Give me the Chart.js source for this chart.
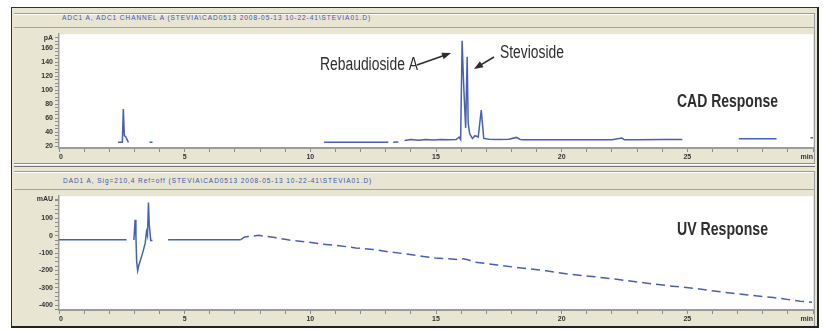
<!DOCTYPE html>
<html>
<head>
<meta charset="utf-8">
<script src="https://cdn.jsdelivr.net/npm/chart.js@4.4.1/dist/chart.umd.min.js"></script>
<style>
html, body { margin: 0; padding: 0; background: #fff; }
body { width: 825px; height: 330px; position: relative; overflow: hidden; font-family: "Liberation Sans", Arial, sans-serif; }
.frame { position: absolute; left: 11px; top: 7px; width: 805px; height: 318px; background: #e8e5d3;
  border-left: 1px solid #333; border-top: 1px solid #333; border-right: 2px solid #222; border-bottom: 2px solid #222; }
.ln { position: absolute; height: 1px; left: 14px; width: 801px; }
.vln { position: absolute; width: 1px; }
.hdr { position: absolute; font-size: 6.5px; color: #3b55b5; white-space: nowrap; letter-spacing: 0.95px; }
canvas { position: absolute; }
</style>
</head>
<body>
<div class="frame"></div>
<div class="ln" style="top:13px;background:#9a9a9a"></div>
<div class="ln" style="top:14px;background:#fff"></div>
<div class="ln" style="top:27px;background:#a3a3a3"></div>
<div class="ln" style="top:163px;background:#8a8a8a"></div>
<div class="ln" style="top:164px;background:#fff"></div>
<div class="ln" style="top:166px;background:#777"></div>
<div class="ln" style="top:171px;background:#9a9a9a"></div>
<div class="ln" style="top:172px;background:#fff"></div>
<div class="ln" style="top:189px;background:#a3a3a3"></div>
<div class="vln" style="left:814px;top:13px;height:150px;background:#9a9a9a"></div>
<div class="vln" style="left:814px;top:171px;height:155px;background:#9a9a9a"></div>
<div class="hdr" style="left:62px;top:14px">ADC1 A, ADC1 CHANNEL A (STEVIA\CAD0513 2008-05-13 10-22-41\STEVIA01.D)</div>
<div class="hdr" style="left:63px;top:177px">DAD1 A, Sig=210,4 Ref=off (STEVIA\CAD0513 2008-05-13 10-22-41\STEVIA01.D)</div>
<canvas id="cadChart" width="806" height="140" style="left:12px;top:28px"></canvas>
<canvas id="uvChart" width="806" height="138" style="left:12px;top:190px"></canvas>
<script>
// retention time axis (min)
var timeTickValues = [0, 5, 10, 15, 20, 25, 30];
var timeTickLabels = ['0', '5', '10', '15', '20', '25', 'min'];

// CAD trace
var cadTime = [2.35, 2.52, 2.56, 2.60, 2.66, 2.76, 3.0, 3.60, 3.72, 5.0,
  10.55, 13.10, 13.2, 13.3, 13.5, 13.6, 13.75, 14.0, 14.3, 14.6,
  14.9, 15.2, 15.5, 15.8, 15.92, 15.98, 16.04, 16.08, 16.12, 16.18,
  16.24, 16.28, 16.34, 16.45, 16.55, 16.68, 16.80, 16.90, 17.1, 17.5,
  17.9, 18.2, 18.35, 18.5, 19.0, 20.0, 21.0, 22.0, 22.4, 22.5,
  23.0, 24.0, 24.8, 25.5, 27.05, 28.55, 29.0, 29.9, 30.0];
var cadSignal = [25.4, 25.4, 73, 35, 33, 25.4, null, 25.4, 25.4, null,
  25.4, 25.4, null, 25.4, 25.8, null, 28, 29.5, 28.5, 29.5,
  28.8, 29.5, 29, 29.5, 33, 29.5, 171, 127, 92, 46,
  148, 53, 37.7, 31, 35, 33, 71.6, 31, 30, 29.5,
  30, 32.5, 29.5, 29, 29, 29, 29, 29, 31.5, 29,
  29, 29.5, 29.5, null, 30.5, 30.5, null, 32, 32];
var cadTickValues = [20, 40, 60, 80, 100, 120, 140, 160, 175];
var cadTickLabels = ['20', '40', '60', '80', '100', '120', '140', '160', 'pA'];

// UV trace
var uvTime = [0, 2.69, 2.8, 2.98, 3.03, 3.06, 3.09, 3.13, 3.18, 3.25,
  3.35, 3.43, 3.48, 3.52, 3.56, 3.59, 3.65, 3.72, 3.9, 4.34,
  7.23, 7.39, 7.95, 8.59, 9.16, 9.96, 10.48, 11.16, 11.81, 12.49,
  13.17, 13.90, 14.50, 14.97, 15.5, 15.97, 16.10, 16.30, 16.51, 17.44,
  18.31, 19.39, 20.39, 21.33, 22.26, 23.33, 24.27, 25.34, 26.35, 27.42,
  28.42, 29.49, 29.96];
var uvSignal = [-23, -23, null, -25, 92, 0, -150, -201, -168, -136,
  -87, -43, 22, 0, 190, 65, -27, -27, null, -23,
  -23, -7, 2, -11, -25, -38, -49, -58, -70, -79,
  -94, -106, -119, -128, -133, -139, -132, -140, -151, -169,
  -184, -202, -223, -236, -252, -272, -288, -304, -323, -341,
  -355, -377, -382];
var uvTickValues = [-400, -300, -200, -100, 0, 100, 210];
var uvTickLabels = ['-400', '-300', '-200', '-100', '0', '100', 'mAU'];

var lineColor = '#4660b8';
var tickFont = { family: '"Liberation Sans", Arial, sans-serif', size: 7, weight: 'bold' };

function toPoints(xs, ys) {
  return xs.map(function (x, i) { return { x: x, y: ys[i] }; });
}

function stepTicks(from, to, step, extra) {
  var out = [];
  for (var v = from; v <= to + 1e-6; v += step) out.push({ value: Math.round(v * 1000) / 1000 });
  (extra || []).forEach(function (v) {
    if (!out.some(function (t) { return t.value === v; })) out.push({ value: v });
  });
  out.sort(function (a, b) { return a.value - b.value; });
  return out;
}

function labelFrom(values, labels) {
  return function (value) {
    var i = values.indexOf(value);
    return i < 0 ? '' : labels[i];
  };
}

var plotBg = {
  id: 'plotBg',
  beforeDraw: function (chart) {
    var a = chart.chartArea, c = chart.ctx;
    c.save();
    c.fillStyle = '#fff';
    c.fillRect(a.left, a.top, a.right - a.left, a.bottom - a.top);
    c.restore();
  }
};

function arrow(c, x1, y1, x2, y2) {
  var ang = Math.atan2(y2 - y1, x2 - x1);
  c.beginPath();
  c.moveTo(x1, y1);
  c.lineTo(x2 - 6 * Math.cos(ang), y2 - 6 * Math.sin(ang));
  c.stroke();
  c.beginPath();
  c.moveTo(x2, y2);
  c.lineTo(x2 - 9 * Math.cos(ang) + 3.5 * Math.sin(ang), y2 - 9 * Math.sin(ang) - 3.5 * Math.cos(ang));
  c.lineTo(x2 - 9 * Math.cos(ang) - 3.5 * Math.sin(ang), y2 - 9 * Math.sin(ang) + 3.5 * Math.cos(ang));
  c.closePath();
  c.fill();
}

var noteFace = '"Liberation Sans", Arial, sans-serif';

// labels on the CAD panel (squeezed to the condensed width of the original)
var cadNotes = {
  id: 'cadNotes',
  afterDraw: function (chart) {
    var c = chart.ctx;
    c.save();
    c.fillStyle = '#2e2e2e';
    c.strokeStyle = '#2e2e2e';
    c.lineWidth = 1.6;
    c.textBaseline = 'alphabetic';
    c.font = '18px ' + noteFace;
    c.fillText('Rebaudioside A', 308, 42, 98);
    c.fillText('Stevioside', 488, 30, 64);
    arrow(c, 405, 37, 439, 25);
    arrow(c, 482, 29, 462, 41);
    c.font = 'bold 18px ' + noteFace;
    c.fillText('CAD Response', 665, 79, 101);
    c.restore();
  }
};

var uvNotes = {
  id: 'uvNotes',
  afterDraw: function (chart) {
    var c = chart.ctx;
    c.save();
    c.fillStyle = '#2e2e2e';
    c.font = 'bold 18px ' + noteFace;
    c.fillText('UV Response', 665, 45, 91);
    c.restore();
  }
};

function makeChart(id, xs, ys, yMin, yMax, yTicks, yVals, yLabels, xHeight, dashFrom, notes) {
  return new Chart(document.getElementById(id), {
    type: 'line',
    data: {
      datasets: [{
        data: toPoints(xs, ys),
        borderColor: lineColor,
        borderWidth: 1.5,
        pointRadius: 0,
        tension: 0,
        spanGaps: false,
        segment: {
          borderDash: function (ctx) {
            return dashFrom !== null && ctx.p0.parsed.x >= dashFrom ? [9, 5] : undefined;
          }
        }
      }]
    },
    options: {
      responsive: false,
      animation: false,
      layout: { padding: { left: 0, right: 5, top: 0, bottom: 0 } },
      plugins: { legend: { display: false }, tooltip: { enabled: false } },
      scales: {
        x: {
          type: 'linear',
          min: 0,
          max: 30,
          afterBuildTicks: function (s) { s.ticks = stepTicks(0, 30, 1); },
          afterFit: function (s) { s.height = xHeight; s.paddingLeft = 0; s.paddingRight = 0; },
          ticks: {
            autoSkip: false, maxRotation: 0, align: 'inner', padding: 1,
            font: tickFont, color: '#333',
            callback: labelFrom(timeTickValues, timeTickLabels)
          },
          grid: { drawOnChartArea: false, tickLength: 4, color: '#8c8c8c' },
          border: { color: '#9c9c9c', width: 2 }
        },
        y: {
          min: yMin,
          max: yMax,
          afterBuildTicks: function (s) { s.ticks = yTicks; },
          afterFit: function (s) { s.width = 47; },
          ticks: {
            autoSkip: false, padding: 2,
            font: tickFont, color: '#333',
            callback: labelFrom(yVals, yLabels)
          },
          grid: { drawOnChartArea: false, tickLength: 4, color: '#8c8c8c' },
          border: { color: '#9c9c9c', width: 1.5 }
        }
      }
    },
    plugins: [plotBg, notes]
  });
}

makeChart('cadChart', cadTime, cadSignal, 17.3, 180.4,
  stepTicks(20, 175, 5), cadTickValues, cadTickLabels, 20, null, cadNotes);
makeChart('uvChart', uvTime, uvSignal, -427, 227,
  stepTicks(-425, 200, 25, [210]), uvTickValues, uvTickLabels, 18, 7.2, uvNotes);
</script>
</body>
</html>
